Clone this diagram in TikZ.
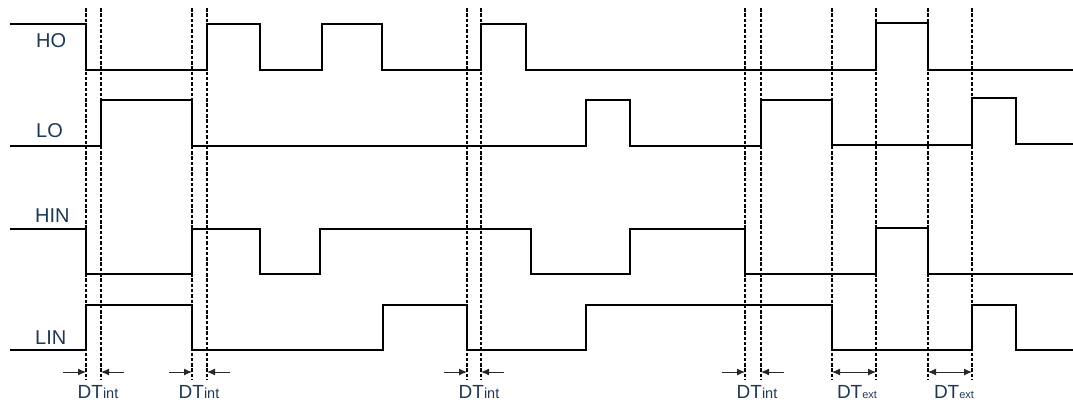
\documentclass[tikz,border=0pt]{standalone}
\usepackage{fontspec}
\setmainfont{Liberation Sans}
\usetikzlibrary{arrows.meta}
\definecolor{txt}{RGB}{31,56,84}
\definecolor{dimgray}{RGB}{40,40,40}
\newcommand{\subint}{{\fontsize{14.5}{14.5}\selectfont int}}
\newcommand{\subext}{{\fontsize{11}{11}\selectfont ext}}
\begin{document}
\begin{tikzpicture}[x=1pt,y=-1pt,
  wave/.style={line width=2.7pt, line join=miter, line cap=butt, black},
  guide/.style={line width=1.2pt, dash pattern=on 3.5pt off 1.8pt, black},
  dimarrow/.style={line width=1pt, dimgray, -{Latex[length=8pt,width=7pt]}},
  dimboth/.style={line width=1pt, dimgray, {Latex[length=8pt,width=7pt]}-{Latex[length=8pt,width=7pt]}},
  sig/.style={font=\fontsize{20}{20}\selectfont, text=txt, anchor=base west, inner sep=0pt},
  dtlab/.style={font=\fontsize{19}{19}\selectfont, text=txt, anchor=base, inner sep=0pt}]
\useasboundingbox (0,0) rectangle (1073,408);

% guide lines
\foreach \n/\x in {g1/86, g2/101, g3/192, g4/207, g5/467, g6/481, g7/745, g8/761, g9/832, g10/876, g11/928, g12/972}{
  \coordinate (\n t) at (\x,8);
  \coordinate (\n b) at (\x,380);
  \coordinate (\n a) at (\x,372);
  \draw[guide] (\n t) -- (\n b);
}

% signal labels
\node[sig] (lho) at (36,47) {HO};
\node[sig] (llo) at (36,137) {LO};
\node[sig] (lhin) at (35,222) {HIN};
\node[sig] (llin) at (35,344) {LIN};

% HO
\draw[wave] (10,24) -- (86,24) -- (86,70) -- (207,70) -- (207,24) -- (260,24) -- (260,70)
  -- (322,70) -- (322,24) -- (382,24) -- (382,70) -- (481,70) -- (481,24) -- (526,24)
  -- (526,70) -- (876,70) -- (876,23) -- (928,23) -- (928,70) -- (1073,70);
% LO
\draw[wave] (10,146) -- (101,146) -- (101,100) -- (192,100) -- (192,146) -- (586,146)
  -- (586,100) -- (630,100) -- (630,146) -- (761,146) -- (761,100) -- (832,100)
  -- (832,145) -- (972,145) -- (972,98) -- (1016,98) -- (1016,144) -- (1073,144);
% HIN
\draw[wave] (10,229) -- (86,229) -- (86,274) -- (192,274) -- (192,229) -- (260,229)
  -- (260,274) -- (320,274) -- (320,229) -- (531,229) -- (531,274) -- (630,274)
  -- (630,229) -- (745,229) -- (745,274) -- (876,274) -- (876,228) -- (928,228)
  -- (928,274) -- (1073,274);
% LIN
\draw[wave] (10,350) -- (86,350) -- (86,305) -- (192,305) -- (192,350) -- (383,350)
  -- (383,305) -- (467,305) -- (467,350) -- (586,350) -- (586,305) -- (832,305)
  -- (832,350) -- (972,350) -- (972,305) -- (1016,305) -- (1016,350) -- (1073,350);

% dead-time arrows
\foreach \a/\b in {g1/g2, g3/g4, g5/g6, g7/g8}{
  \draw[dimarrow] ([xshift=-23pt]\a a) -- (\a a);
  \draw[dimarrow] ([xshift=23pt]\b a) -- (\b a);
}
\draw[dimboth] (g9a) -- (g10a);
\draw[dimboth] (g11a) -- (g12a);

% dead-time labels
\node[dtlab] (dt1) at (98,398) {DT\subint};
\node[dtlab] (dt2) at (199,398) {DT\subint};
\node[dtlab] (dt3) at (479,398) {DT\subint};
\node[dtlab] (dt4) at (757,398) {DT\subint};
\node[dtlab] (dt5) at (857,398) {DT\subext};
\node[dtlab] (dt6) at (954,398) {DT\subext};
\end{tikzpicture}
\end{document}
